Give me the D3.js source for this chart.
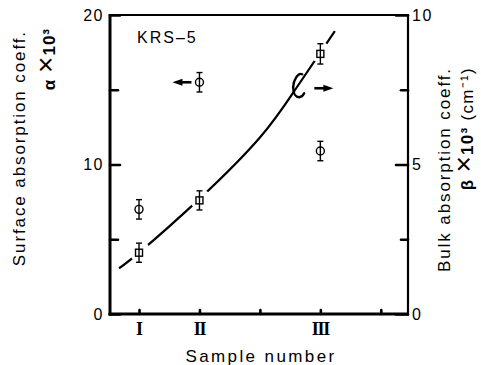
<!DOCTYPE html>
<html><head><meta charset="utf-8">
<script src="https://cdn.jsdelivr.net/npm/d3@7"></script>
<style>
body{margin:0;background:#fff}
text{font-family:"Liberation Sans",Arial,sans-serif;fill:#000}
</style>
</head><body><div class="chart"></div>
<script>
var samples = [1, 2, 4];
var sampleLabels = ["I", "II", "III"];
var surfaceAlpha = [7.0, 15.5, 10.9];
var surfaceErr = [0.65, 0.65, 0.65];
var bulkBeta = [2.05, 3.8, 8.7];
var bulkErr = [0.32, 0.32, 0.34];
var curveX = [0.67, 1, 2, 3, 3.6, 4.24];
var curveBeta = [1.53, 2.05, 3.85, 5.9, 7.55, 9.46];
var xTicks = [1, 2, 3, 4, 5];
var leftTicks = [0, 10, 20];
var leftMinor = [5, 15];
var rightTicks = [0, 5, 10];
var rightMinor = [2.5, 7.5];

var W = 481, H = 365;
var m = {left: 110, right: 73, top: 15, bottom: 51};

var svg = d3.select('.chart')
	.append('svg')
	.attr('width', W)
	.attr('height', H)
	.style('background-color', '#fff');

var x = d3.scaleLinear().domain([0.52, 5.45]).range([m.left, W - m.right]);
var yL = d3.scaleLinear().domain([0, 20]).range([H - m.bottom, m.top]);
var yR = d3.scaleLinear().domain([0, 10]).range([H - m.bottom, m.top]);

// left axis
var gl = svg.append('g').attr('transform', 'translate(' + m.left + ',0)');
gl.call(d3.axisLeft(yL).tickValues(leftTicks).tickSize(-10).tickPadding(6));
gl.append('g').call(d3.axisLeft(yL).tickValues(leftMinor).tickSize(-8).tickFormat(''));

// right axis
var gr = svg.append('g').attr('transform', 'translate(' + (W - m.right) + ',0)');
gr.call(d3.axisRight(yR).tickValues(rightTicks).tickSize(-12).tickPadding(4));
gr.append('g').call(d3.axisRight(yR).tickValues(rightMinor).tickSize(-7).tickFormat(''));

// bottom axis
var gb = svg.append('g').attr('transform', 'translate(0,' + (H - m.bottom) + ')');
gb.call(d3.axisBottom(x).tickValues(xTicks).tickSize(-4).tickFormat(''));

svg.selectAll('.domain').remove();
svg.selectAll('.tick line').style('stroke', '#000').style('stroke-width', 2.6).style('stroke-linecap', 'round');
svg.selectAll('.tick text').style('font-size', '16px').style('letter-spacing', '1.5px').style('fill', '#000')
	.style('font-family', '"Liberation Sans",Arial,sans-serif');

// frame
var x0 = x.range()[0], x1 = x.range()[1], y0 = yL.range()[0], y1 = yL.range()[1];
svg.append('line').attr('x1', x0).attr('x2', x1).attr('y1', y1).attr('y2', y1).style('stroke', '#000').style('stroke-width', 2.2);
svg.append('line').attr('x1', x1).attr('x2', x1).attr('y1', y1 - 1).attr('y2', y0 + 1).style('stroke', '#000').style('stroke-width', 2.2);
svg.append('line').attr('x1', x0).attr('x2', x0).attr('y1', y1 - 1).attr('y2', y0 + 1.5).style('stroke', '#000').style('stroke-width', 3);
svg.append('line').attr('x1', x0 - 1.5).attr('x2', x1 + 1).attr('y1', y0).attr('y2', y0).style('stroke', '#000').style('stroke-width', 3);

// sample labels
svg.selectAll('.roman')
	.data(samples)
	.enter()
	.append('text')
	.attr('x', function (d) { return x(d); })
	.attr('y', y0 + 21)
	.attr('text-anchor', 'middle')
	.style('font-family', '"Liberation Serif","Times New Roman",serif')
	.style('font-weight', 'bold')
	.style('font-size', '18px')
	.style('letter-spacing', '-1.2px')
	.text(function (d, i) { return sampleLabels[i]; });

svg.append('text')
	.attr('x', (x0 + x1) / 2 + 2)
	.attr('y', H - 3)
	.attr('text-anchor', 'middle')
	.style('font-size', '17px')
	.style('letter-spacing', '2.4px')
	.text('Sample number');

// left title
svg.append('text')
	.attr('transform', 'translate(25,30) rotate(-90)')
	.attr('text-anchor', 'end')
	.style('font-size', '17px')
	.style('letter-spacing', '1.9px')
	.text('Surface absorption coeff.');
var t2 = svg.append('text')
	.attr('transform', 'translate(55,28) rotate(-90)')
	.attr('text-anchor', 'end')
	.style('font-size', '17px')
	.style('font-weight', 'bold')
	.style('letter-spacing', '1px');
t2.append('tspan').text('α ');
t2.append('tspan').style('font-weight', 'normal').style('font-size', '28px').text('×');
t2.append('tspan').text('10³');

// right title
svg.append('text')
	.attr('transform', 'translate(450,67) rotate(-90)')
	.attr('text-anchor', 'end')
	.style('font-size', '17px')
	.style('letter-spacing', '1.9px')
	.text('Bulk  absorption coeff.');
var t3 = svg.append('text')
	.attr('transform', 'translate(473,67) rotate(-90)')
	.attr('text-anchor', 'end')
	.style('font-size', '17px')
	.style('font-weight', 'bold')
	.style('letter-spacing', '1.3px');
t3.append('tspan').text('β ');
t3.append('tspan').style('font-weight', 'normal').style('font-size', '28px').text('×');
t3.append('tspan').text('10³ ');
t3.append('tspan').style('font-weight', 'normal').text('(cm⁻¹)');

// KRS-5
svg.append('text')
	.attr('x', x0 + 27)
	.attr('y', y1 + 28)
	.style('font-size', '16px')
	.style('letter-spacing', '2px')
	.text('KRS–5');

// bulk curve
var curveData = curveX.map(function (d, i) { return [d, curveBeta[i]]; });
svg.append('path')
	.datum(curveData)
	.attr('d', d3.line()
		.x(function (d) { return x(d[0]); })
		.y(function (d) { return yR(d[1]); })
		.curve(d3.curveNatural))
	.style('fill', 'none')
	.style('stroke', '#000')
	.style('stroke-width', 2.2);

// gaps in the curve around the square markers
svg.selectAll('.gap')
	.data(samples)
	.enter()
	.append('circle')
	.attr('cx', function (d) { return x(d) + 1; })
	.attr('cy', function (d, i) { return yR(bulkBeta[i]) - 1; })
	.attr('r', 10.5)
	.style('fill', '#fff');

// error bars
function errBars(cls, vals, errs, scale) {
	var g = svg.selectAll('.' + cls)
		.data(samples)
		.enter()
		.append('g')
		.attr('class', cls);
	g.append('line')
		.attr('x1', function (d) { return x(d); })
		.attr('x2', function (d) { return x(d); })
		.attr('y1', function (d, i) { return scale(vals[i] - errs[i]); })
		.attr('y2', function (d, i) { return scale(vals[i] + errs[i]); });
	g.append('line')
		.attr('x1', function (d) { return x(d) - 3; })
		.attr('x2', function (d) { return x(d) + 3; })
		.attr('y1', function (d, i) { return scale(vals[i] - errs[i]); })
		.attr('y2', function (d, i) { return scale(vals[i] - errs[i]); });
	g.append('line')
		.attr('x1', function (d) { return x(d) - 3; })
		.attr('x2', function (d) { return x(d) + 3; })
		.attr('y1', function (d, i) { return scale(vals[i] + errs[i]); })
		.attr('y2', function (d, i) { return scale(vals[i] + errs[i]); });
	g.selectAll('line').style('stroke', '#000').style('stroke-width', 1.4);
}
errBars('errA', surfaceAlpha, surfaceErr, yL);
errBars('errB', bulkBeta, bulkErr, yR);

svg.selectAll('.dotA')
	.data(samples)
	.enter()
	.append('circle')
	.attr('cx', function (d) { return x(d); })
	.attr('cy', function (d, i) { return yL(surfaceAlpha[i]); })
	.attr('r', 4)
	.style('fill', 'none')
	.style('stroke', '#000')
	.style('stroke-width', 1.4);

svg.selectAll('.sqB')
	.data(samples)
	.enter()
	.append('rect')
	.attr('x', function (d) { return x(d) - 3.5; })
	.attr('y', function (d, i) { return yR(bulkBeta[i]) - 3.5; })
	.attr('width', 7)
	.attr('height', 7)
	.style('fill', 'none')
	.style('stroke', '#000')
	.style('stroke-width', 1.4);

// arrows
function arrow(xTail, xHead, yy) {
	var dir = xHead > xTail ? 1 : -1;
	svg.append('line')
		.attr('x1', xTail).attr('x2', xHead - dir * 6)
		.attr('y1', yy).attr('y2', yy)
		.style('stroke', '#000').style('stroke-width', 2.6);
	svg.append('path')
		.attr('d', 'M' + xHead + ',' + yy + 'L' + (xHead - dir * 10) + ',' + (yy - 3.5) + 'L' + (xHead - dir * 10) + ',' + (yy + 3.5) + 'Z')
		.style('fill', '#000');
}
arrow(x(samples[1]) - 8, x(samples[1]) - 27, yL(surfaceAlpha[1]));
arrow(x(samples[2]) - 6, x(samples[2]) + 13, yR(curveBeta[4]));

// curl mark on the curve
var cx0 = x(curveX[4]), cy0 = yR(curveBeta[4]);
svg.append('path')
	.attr('transform', 'translate(' + cx0 + ',' + cy0 + ')')
	.attr('d', 'M6,-14 C2,-16 -3,-8 -3,-1 C-3,6 0,9 3,9 C5,9 7,7 8,5')
	.style('fill', 'none')
	.style('stroke', '#000')
	.style('stroke-width', 2.4)
	.style('stroke-linecap', 'round');
</script>
</body></html>
